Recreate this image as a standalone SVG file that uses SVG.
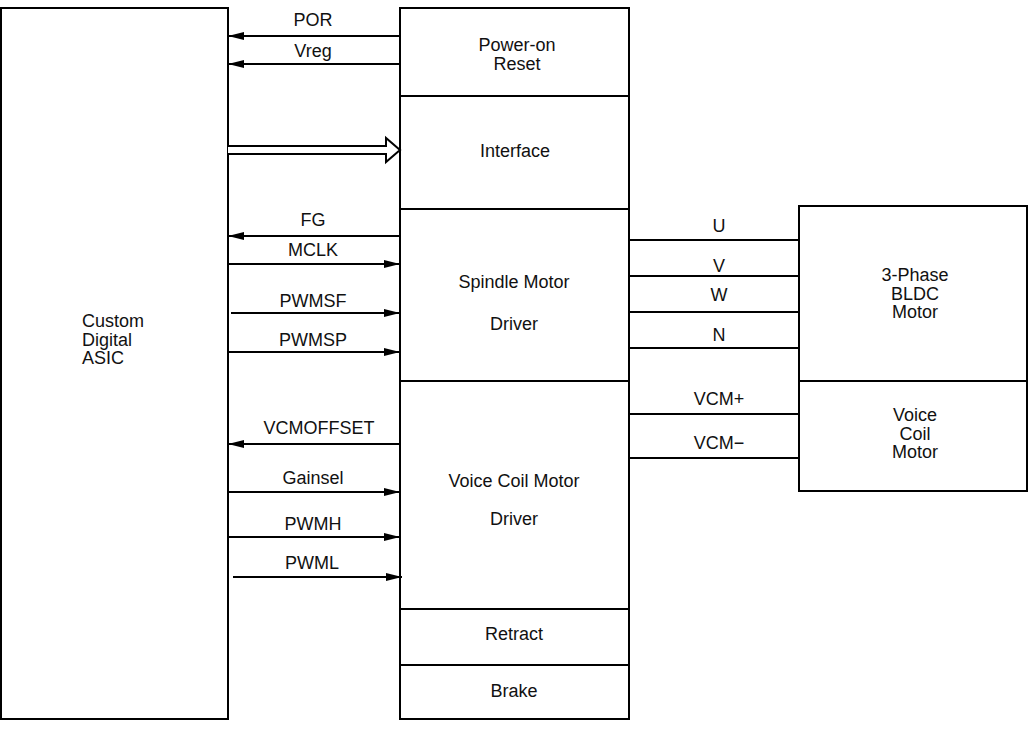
<svg xmlns="http://www.w3.org/2000/svg" width="1029" height="729" viewBox="0 0 1029 729">
<style>
.box{fill:#fff;stroke:#000;stroke-width:2}
.ln{fill:none;stroke:#000;stroke-width:2}
text{font-family:"Liberation Sans",Arial,sans-serif;font-size:18px;fill:#111}
.c{text-anchor:middle}
</style>
<defs>
<marker id="ah" markerUnits="userSpaceOnUse" markerWidth="16" markerHeight="8" refX="16" refY="4" orient="auto">
<path d="M0,0 L16,4 L0,8 z" fill="#000"/>
</marker>
</defs>
<rect width="1029" height="729" fill="#fff"/>
<g id="asic">
<rect class="box" x="1" y="8" width="227" height="711"/>
<text x="82" y="327">Custom</text>
<text x="82" y="346">Digital</text>
<text x="82" y="364">ASIC</text>
</g>
<g id="por">
<rect class="box" x="400" y="8" width="229" height="88"/>
<text class="c" x="517" y="51">Power-on</text>
<text class="c" x="517" y="70">Reset</text>
</g>
<g id="interface">
<rect class="box" x="400" y="96" width="229" height="113"/>
<text class="c" x="515" y="157">Interface</text>
</g>
<g id="spindle">
<rect class="box" x="400" y="209" width="229" height="172"/>
<text class="c" x="514" y="288">Spindle Motor</text>
<text class="c" x="514" y="330">Driver</text>
</g>
<g id="vcmdriver">
<rect class="box" x="400" y="381" width="229" height="228"/>
<text class="c" x="514" y="487">Voice Coil Motor</text>
<text class="c" x="514" y="525">Driver</text>
</g>
<g id="retract">
<rect class="box" x="400" y="609" width="229" height="56"/>
<text class="c" x="514" y="640">Retract</text>
</g>
<g id="brake">
<rect class="box" x="400" y="665" width="229" height="54"/>
<text class="c" x="514" y="697">Brake</text>
</g>
<g id="bldc">
<rect class="box" x="799" y="206" width="228" height="175"/>
<text class="c" x="915" y="281">3-Phase</text>
<text class="c" x="915" y="300">BLDC</text>
<text class="c" x="915" y="318">Motor</text>
</g>
<g id="vcm">
<rect class="box" x="799" y="381" width="228" height="110"/>
<text class="c" x="915" y="421">Voice</text>
<text class="c" x="915" y="440">Coil</text>
<text class="c" x="915" y="458">Motor</text>
</g>
<g id="connectors">
<line class="ln" x1="400" y1="36" x2="228" y2="36" marker-end="url(#ah)"/>
<line class="ln" x1="400" y1="64" x2="228" y2="64" marker-end="url(#ah)"/>
<path d="M228,146 L386,146 L386,138 L400,150 L386,162 L386,154 L228,154" fill="#fff" stroke="#000" stroke-width="2"/>
<line class="ln" x1="400" y1="236" x2="228" y2="236" marker-end="url(#ah)"/>
<line class="ln" x1="228" y1="264" x2="400" y2="264" marker-end="url(#ah)"/>
<line class="ln" x1="231" y1="313" x2="400" y2="313" marker-end="url(#ah)"/>
<line class="ln" x1="228" y1="352" x2="400" y2="352" marker-end="url(#ah)"/>
<line class="ln" x1="400" y1="444" x2="228" y2="444" marker-end="url(#ah)"/>
<line class="ln" x1="228" y1="492" x2="400" y2="492" marker-end="url(#ah)"/>
<line class="ln" x1="228" y1="537" x2="400" y2="537" marker-end="url(#ah)"/>
<line class="ln" x1="233" y1="577" x2="402" y2="577" marker-end="url(#ah)"/>
<line class="ln" x1="629" y1="240" x2="799" y2="240"/>
<line class="ln" x1="629" y1="276" x2="799" y2="276"/>
<line class="ln" x1="629" y1="312" x2="799" y2="312"/>
<line class="ln" x1="629" y1="348" x2="799" y2="348"/>
<line class="ln" x1="629" y1="414" x2="799" y2="414"/>
<line class="ln" x1="629" y1="458" x2="799" y2="458"/>
<text class="c" x="313" y="26">POR</text>
<text class="c" x="313" y="57">Vreg</text>
<text class="c" x="313" y="226">FG</text>
<text class="c" x="313" y="256">MCLK</text>
<text class="c" x="313" y="307">PWMSF</text>
<text class="c" x="313" y="346">PWMSP</text>
<text class="c" x="319" y="434">VCMOFFSET</text>
<text class="c" x="313" y="484">Gainsel</text>
<text class="c" x="313" y="530">PWMH</text>
<text class="c" x="312" y="569">PWML</text>
<text class="c" x="719" y="232">U</text>
<text class="c" x="719" y="272">V</text>
<text class="c" x="719" y="301">W</text>
<text class="c" x="719" y="341">N</text>
<text class="c" x="719" y="405">VCM+</text>
<text class="c" x="719" y="449">VCM−</text>
</g>
</svg>
